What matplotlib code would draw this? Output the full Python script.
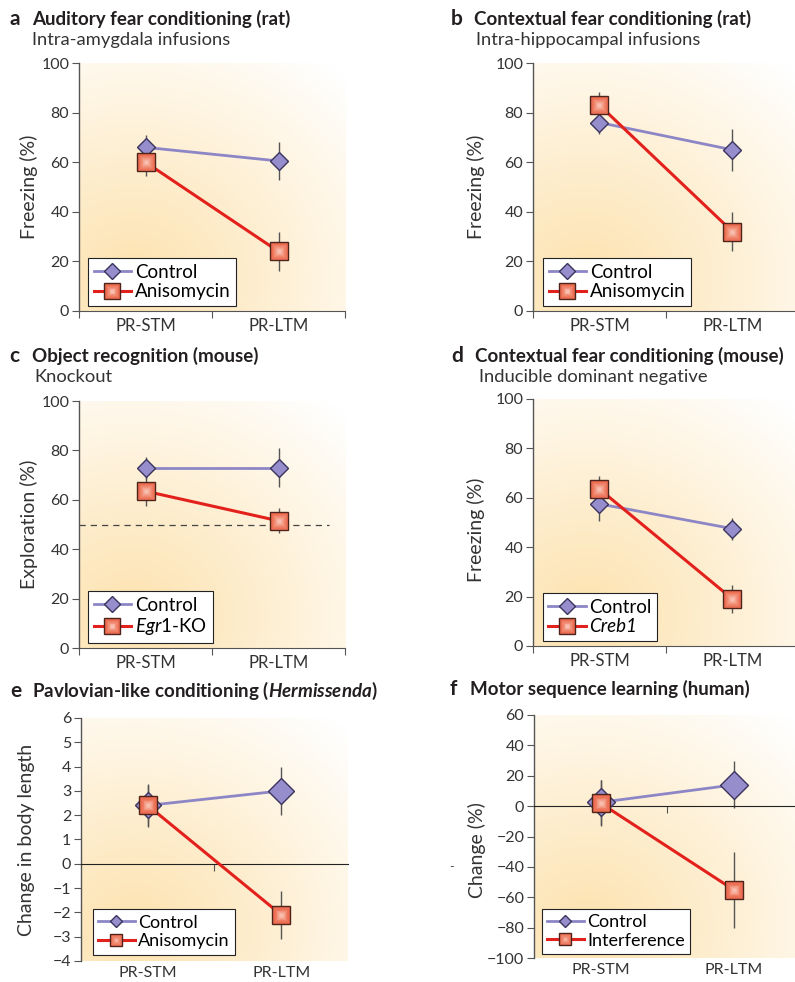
"""
Six-panel figure: PR-STM vs PR-LTM across learning paradigms
"""

import numpy as np
import matplotlib
matplotlib.use('Agg')
import matplotlib.pyplot as plt
from matplotlib.lines import Line2D
from matplotlib.legend_handler import HandlerTuple
from matplotlib.transforms import blended_transform_factory

plt.rcParams['font.family'] = ['Lato', 'DejaVu Sans']
plt.rcParams['mathtext.fontset'] = 'custom'
plt.rcParams['mathtext.rm'] = 'Lato'
plt.rcParams['mathtext.it'] = 'Lato:italic'
plt.rcParams['mathtext.bf'] = 'Lato:bold'
plt.rcParams['mathtext.bfit'] = 'Lato:italic:bold'

# ---- data ----
stages = ['PR-STM', 'PR-LTM']

# a  auditory fear conditioning (rat)
a_ctrl = [66, 60.5]
a_ctrl_err = [5, 7.5]
a_aniso = [60, 24]
a_aniso_err = [5.5, 8]

# b  contextual fear conditioning (rat)
b_ctrl = [76, 65]
b_ctrl_err = [4.5, 8.5]
b_aniso = [83, 32]
b_aniso_err = [5.5, 8]

# c  object recognition (mouse)
c_ctrl = [73, 73]
c_ctrl_err = [4.5, 8]
c_ko = [63.5, 51.5]
c_ko_err = [6, 5]
c_chance = 50

# d  contextual fear conditioning (mouse)
d_ctrl = [57.5, 47.5]
d_ctrl_err = [7, 4.5]
d_creb = [63.5, 19]
d_creb_err = [5.5, 5.5]

# e  Pavlovian-like conditioning (Hermissenda)
e_ctrl = [2.4, 3.0]
e_ctrl_err = [0.9, 1.0]
e_aniso = [2.4, -2.1]
e_aniso_err = [0.85, 1.0]

# f  motor sequence learning (human)
f_ctrl = [2.5, 14]
f_ctrl_err = [15, 15.5]
f_interf = [2, -55]
f_interf_err = [15, 25]

# ---- styling ----
CTRL_LINE = '#8d86c6'
CTRL_FACE = '#958dcc'
CTRL_EDGE = '#3b345c'
TREAT_LINE = '#e3211c'
TREAT_FACE = '#ec6a4f'
TREAT_EDGE = '#4d231b'
ERR = '#555555'
AXIS = '#555555'
TXT = '#333333'
XPOS = [0.5, 1.5]
GLOW = [(0.8, '#f0846b', 0.4), (0.6, '#f4a08a', 0.45), (0.4, '#f8bfae', 0.5),
        (0.2, '#fcdcd2', 0.5)]


def add_background(ax):
    xx, yy = np.meshgrid(np.linspace(0, 1, 200), np.linspace(0, 1, 200))
    d = np.sqrt((xx - 0.2) ** 2 + (yy - 0.12) ** 2) / 1.15
    t = np.clip(d, 0, 1)[..., None]
    warm = np.array([253, 226, 174]) / 255
    img = warm + (1 - warm) * t
    ax.imshow(img, extent=(0, 1, 0, 1), transform=ax.transAxes, origin='lower',
              aspect='auto', zorder=0, interpolation='bilinear')


def square_handles(ms):
    # red square with a lighter centre
    hs = [Line2D([], [], color=TREAT_LINE, lw=2.2, marker='s', ms=ms,
                 mfc=TREAT_FACE, mec=TREAT_EDGE, mew=1)]
    for f, c, a in GLOW:
        hs.append(Line2D([], [], ls='none', marker='s', ms=ms * f, mfc=c,
                         mec='none', alpha=a))
    return tuple(hs)


def panel(ax, ctrl, ctrl_err, treat, treat_err, treat_label, ylim, yticks, ylabel,
          ylabel_xy, leg_xy, ms_d, ms_s, leg_d, leg_s, leg_fs, zero_axis=False):
    add_background(ax)
    ax.errorbar(XPOS, ctrl, yerr=ctrl_err, fmt='none', ecolor=ERR, elinewidth=1,
                capsize=0, zorder=2)
    ax.errorbar(XPOS, treat, yerr=treat_err, fmt='none', ecolor=ERR, elinewidth=1,
                capsize=0, zorder=2)
    ax.plot(XPOS, ctrl, color=CTRL_LINE, lw=2, marker='D', ms=ms_d, mfc=CTRL_FACE,
            mec=CTRL_EDGE, mew=1, zorder=4)
    ax.plot(XPOS, treat, color=TREAT_LINE, lw=2.2, marker='s', ms=ms_s, mfc=TREAT_FACE,
            mec=TREAT_EDGE, mew=1, zorder=5)
    for i, (f, c, a) in enumerate(GLOW):
        ax.plot(XPOS, treat, ls='none', marker='s', ms=ms_s * f, mfc=c,
                mec='none', alpha=a, zorder=6 + i)

    ax.set_xlim(0, 2)
    ax.set_ylim(*ylim)
    for s in ['top', 'right']:
        ax.spines[s].set_visible(False)
    ax.spines['left'].set_color(AXIS)
    ax.spines['left'].set_linewidth(1)
    ax.set_yticks(yticks)
    ax.tick_params(axis='y', length=5, width=0.8, color=AXIS, labelsize=11.5,
                   labelcolor=TXT, pad=2)
    if zero_axis:
        ax.spines['bottom'].set_position(('data', 0))
        ax.spines['bottom'].set_color('#222222')
        ax.spines['bottom'].set_linewidth(0.8)
        ax.set_xticks([1])
        lab_y, lab_fs = -0.022, 11.5
    else:
        ax.spines['bottom'].set_color(AXIS)
        ax.set_xticks([0, 1, 2])
        lab_y, lab_fs = -0.028, 12
    ax.set_xticklabels([])
    ax.tick_params(axis='x', length=5, width=0.8, color=AXIS)
    trans = blended_transform_factory(ax.transData, ax.transAxes)
    for xi, s in zip(XPOS, stages):
        ax.text(xi, lab_y, s, transform=trans, ha='center', va='top', fontsize=lab_fs,
                color=TXT)

    ax.set_ylabel(ylabel, fontsize=14, color=TXT)
    ax.yaxis.set_label_coords(*ylabel_xy)

    h_ctrl = Line2D([], [], color=CTRL_LINE, lw=2, marker='D', ms=leg_d,
                    mfc=CTRL_FACE, mec=CTRL_EDGE, mew=1)
    h_treat = square_handles(leg_s)
    leg = ax.legend([h_ctrl, h_treat], ['Control', treat_label], loc='lower left',
                    bbox_to_anchor=leg_xy, borderaxespad=0, frameon=True,
                    fancybox=False, framealpha=1, edgecolor='#222222',
                    fontsize=leg_fs, handlelength=2.0, handletextpad=0.2,
                    labelspacing=0.15, borderpad=0.3,
                    handler_map={tuple: HandlerTuple(ndivide=1)})
    leg.get_frame().set_linewidth(0.8)
    leg.set_zorder(10)
    return leg


fig = plt.figure(figsize=(7.95, 9.82), dpi=100)


def fx(px):
    return px / 795


def fy(py):
    return 1 - py / 982


ax_a = fig.add_axes([0.0994, 0.6833, 0.3346, 0.2525])
ax_b = fig.add_axes([0.6704, 0.6833, 0.3346, 0.2525])
ax_c = fig.add_axes([0.0994, 0.3401, 0.3346, 0.2515])
ax_d = fig.add_axes([0.6704, 0.3422, 0.3346, 0.2515])
ax_e = fig.add_axes([0.1019, 0.0214, 0.3358, 0.2475])
ax_f = fig.add_axes([0.6717, 0.0244, 0.3346, 0.2475])

pct = [0, 20, 40, 60, 80, 100]

panel(ax_a, a_ctrl, a_ctrl_err, a_aniso, a_aniso_err, 'Anisomycin', (0, 100), pct,
      'Freezing (%)', (-0.155, 0.5), (0.034, 0.02), 9, 13.5, 8.5, 11, 13.5)
panel(ax_b, b_ctrl, b_ctrl_err, b_aniso, b_aniso_err, 'Anisomycin', (0, 100), pct,
      'Freezing (%)', (-0.18, 0.5), (0.038, 0.02), 9, 13.5, 8.5, 11, 13.5)
panel(ax_c, c_ctrl, c_ctrl_err, c_ko, c_ko_err, r'$\mathit{Egr1}$-KO', (0, 100), pct,
      'Exploration (%)', (-0.155, 0.5), (0.034, 0.02), 9, 13.5, 8.5, 11, 13.5)
ax_c.axhline(c_chance, xmin=0, xmax=0.94, color='#444444', lw=0.9, ls=(0, (5, 4)),
             zorder=1)
leg_d = panel(ax_d, d_ctrl, d_ctrl_err, d_creb, d_creb_err, 'Creb1', (0, 100), pct,
              'Freezing (%)', (-0.18, 0.47), (0.036, 0.02), 9, 13.5, 8.5, 11, 13.5)
leg_d.get_texts()[1].set_fontstyle('italic')
panel(ax_e, e_ctrl, e_ctrl_err, e_aniso, e_aniso_err, 'Anisomycin', (-4, 6),
      list(range(-4, 7)), 'Change in body length', (-0.172, 0.5), (0.045, 0.025),
      13.5, 13, 6.5, 8.5, 13, zero_axis=True)
panel(ax_f, f_ctrl, f_ctrl_err, f_interf, f_interf_err, 'Interference', (-100, 60),
      list(range(-100, 61, 20)), 'Change (%)', (-0.18, 0.444), (0.03, 0.016),
      14, 13, 6.5, 8.5, 13, zero_axis=True)

# panel headers
hdr = dict(fontsize=13.5, fontweight='bold', color='#231f20', va='baseline')
sub = dict(fontsize=13.2, color='#333333', va='baseline')
let = dict(fontsize=15, fontweight='bold', color='#231f20', va='baseline')

fig.text(fx(9), fy(25), 'a', **let)
fig.text(fx(32), fy(25), 'Auditory fear conditioning (rat)', **hdr)
fig.text(fx(32), fy(45), 'Intra-amygdala infusions', **sub)

fig.text(fx(451), fy(25), 'b', **let)
fig.text(fx(474), fy(25), 'Contextual fear conditioning (rat)', **hdr)
fig.text(fx(476), fy(45), 'Intra-hippocampal infusions', **sub)

fig.text(fx(9), fy(362), 'c', **let)
fig.text(fx(32), fy(362), 'Object recognition (mouse)', **hdr)
fig.text(fx(34), fy(382), 'Knockout', **sub)

fig.text(fx(451), fy(362), 'd', **let)
fig.text(fx(475), fy(362), 'Contextual fear conditioning (mouse)', **hdr)
fig.text(fx(479), fy(382), 'Inducible dominant negative', **sub)

fig.text(fx(10), fy(697), 'e', **let)
fig.text(fx(32), fy(697), r'Pavlovian-like conditioning ($\mathbfit{Hermissenda}$)', **hdr)

fig.text(fx(450), fy(695), 'f', **let)
fig.text(fx(470), fy(695), 'Motor sequence learning (human)', **hdr)

# stray mark left of panel f's axis label
fig.text(fx(452), fy(867), '-', fontsize=9, color='#555555', ha='center', va='center')

fig.savefig('out.png', dpi=100)
